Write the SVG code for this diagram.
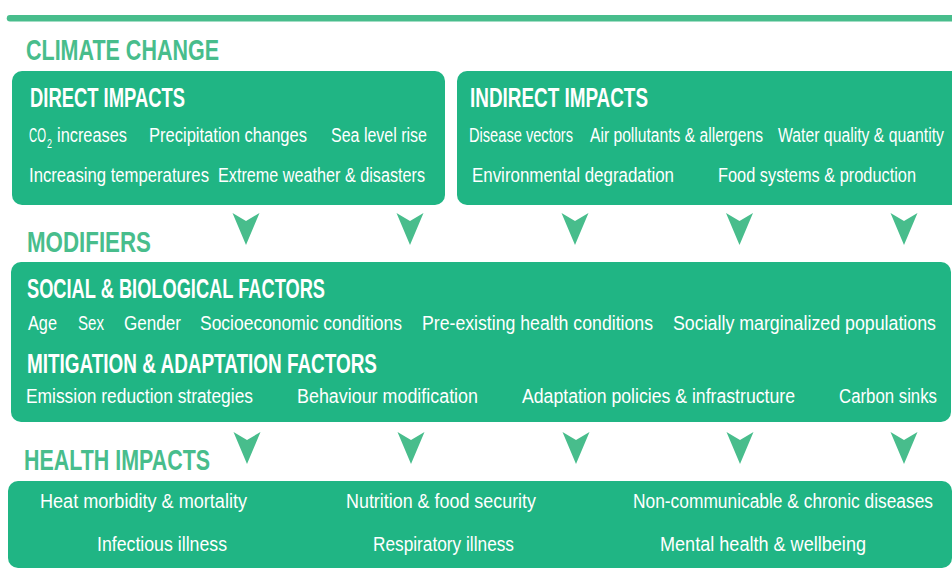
<svg xmlns="http://www.w3.org/2000/svg" width="952" height="581" viewBox="0 0 952 581">
<defs>
<style>
.box{fill:#20b584}
.sec{fill:#48bd8c;font-family:"Liberation Sans",Arial,sans-serif;font-weight:700;font-size:30px}
.hd{fill:#ffffff;font-family:"Liberation Sans",Arial,sans-serif;font-weight:700;font-size:27px}
.t{fill:#ffffff;font-family:"Liberation Sans",Arial,sans-serif;font-size:19.5px}
.arr{fill:#48bd8c}
</style>
<polygon id="ah" points="-13.5,0 0,8 13.5,0 0,32"/>
</defs>
<rect width="952" height="581" fill="#ffffff"/>
<line x1="10" y1="18.3" x2="960" y2="18.3" stroke="#48bd8c" stroke-width="6.5" stroke-linecap="round"/>
<text class="sec" x="26" y="60" textLength="193" lengthAdjust="spacingAndGlyphs">CLIMATE CHANGE</text>

<g id="direct-impacts">
<rect class="box" x="12" y="71" width="433" height="134" rx="10"/>
<text class="hd" x="30" y="107" textLength="155" lengthAdjust="spacingAndGlyphs">DIRECT IMPACTS</text>
<text class="t" x="29" y="141.7" textLength="17" lengthAdjust="spacingAndGlyphs">CO</text>
<text class="t" x="47" y="147.5" style="font-size:13px" textLength="5" lengthAdjust="spacingAndGlyphs">2</text>
<text class="t" x="57" y="141.7" textLength="70" lengthAdjust="spacingAndGlyphs">increases</text>
<text class="t" x="149" y="141.7" textLength="158" lengthAdjust="spacingAndGlyphs">Precipitation changes</text>
<text class="t" x="331" y="141.7" textLength="96" lengthAdjust="spacingAndGlyphs">Sea level rise</text>
<text class="t" x="29" y="181.7" textLength="180" lengthAdjust="spacingAndGlyphs">Increasing temperatures</text>
<text class="t" x="218" y="181.7" textLength="207" lengthAdjust="spacingAndGlyphs">Extreme weather &amp; disasters</text>
</g>

<g id="indirect-impacts">
<rect class="box" x="457" y="71" width="505" height="134" rx="10"/>
<text class="hd" x="470" y="107" textLength="178" lengthAdjust="spacingAndGlyphs">INDIRECT IMPACTS</text>
<text class="t" x="469" y="141.7" textLength="104" lengthAdjust="spacingAndGlyphs">Disease vectors</text>
<text class="t" x="590" y="141.7" textLength="173" lengthAdjust="spacingAndGlyphs">Air pollutants &amp; allergens</text>
<text class="t" x="778" y="141.7" textLength="166" lengthAdjust="spacingAndGlyphs">Water quality &amp; quantity</text>
<text class="t" x="472" y="181.7" textLength="202" lengthAdjust="spacingAndGlyphs">Environmental degradation</text>
<text class="t" x="718" y="181.7" textLength="198" lengthAdjust="spacingAndGlyphs">Food systems &amp; production</text>
</g>

<text class="sec" x="27" y="252" textLength="124" lengthAdjust="spacingAndGlyphs">MODIFIERS</text>

<g id="modifiers">
<rect class="box" x="11" y="262" width="940" height="160" rx="10"/>
<text class="hd" x="27" y="298" textLength="298" lengthAdjust="spacingAndGlyphs">SOCIAL &amp; BIOLOGICAL FACTORS</text>
<text class="t" x="28" y="330" textLength="29" lengthAdjust="spacingAndGlyphs">Age</text>
<text class="t" x="78" y="330" textLength="26" lengthAdjust="spacingAndGlyphs">Sex</text>
<text class="t" x="124" y="330" textLength="57" lengthAdjust="spacingAndGlyphs">Gender</text>
<text class="t" x="200" y="330" textLength="202" lengthAdjust="spacingAndGlyphs">Socioeconomic conditions</text>
<text class="t" x="422" y="330" textLength="231" lengthAdjust="spacingAndGlyphs">Pre-existing health conditions</text>
<text class="t" x="673" y="330" textLength="263" lengthAdjust="spacingAndGlyphs">Socially marginalized populations</text>
<text class="hd" x="27" y="372.7" textLength="350" lengthAdjust="spacingAndGlyphs">MITIGATION &amp; ADAPTATION FACTORS</text>
<text class="t" x="26" y="403" textLength="227" lengthAdjust="spacingAndGlyphs">Emission reduction strategies</text>
<text class="t" x="297" y="403" textLength="181" lengthAdjust="spacingAndGlyphs">Behaviour modification</text>
<text class="t" x="522" y="403" textLength="273" lengthAdjust="spacingAndGlyphs">Adaptation policies &amp; infrastructure</text>
<text class="t" x="839" y="403" textLength="98" lengthAdjust="spacingAndGlyphs">Carbon sinks</text>
</g>

<text class="sec" x="24" y="470" textLength="186" lengthAdjust="spacingAndGlyphs">HEALTH IMPACTS</text>

<g id="health-impacts">
<rect class="box" x="8" y="481" width="944" height="87" rx="10"/>
<text class="t" x="40" y="508.3" textLength="207" lengthAdjust="spacingAndGlyphs">Heat morbidity &amp; mortality</text>
<text class="t" x="346" y="508.3" textLength="190" lengthAdjust="spacingAndGlyphs">Nutrition &amp; food security</text>
<text class="t" x="633" y="508.3" textLength="300" lengthAdjust="spacingAndGlyphs">Non-communicable &amp; chronic diseases</text>
<text class="t" x="97" y="550.5" textLength="130" lengthAdjust="spacingAndGlyphs">Infectious illness</text>
<text class="t" x="373" y="550.5" textLength="141" lengthAdjust="spacingAndGlyphs">Respiratory illness</text>
<text class="t" x="660" y="550.5" textLength="206" lengthAdjust="spacingAndGlyphs">Mental health &amp; wellbeing</text>
</g>

<g id="connectors" class="arr">
<use href="#ah" x="246" y="213"/>
<use href="#ah" x="410" y="213"/>
<use href="#ah" x="575" y="213"/>
<use href="#ah" x="739.5" y="213"/>
<use href="#ah" x="904" y="213"/>
<use href="#ah" x="247" y="432"/>
<use href="#ah" x="411" y="432"/>
<use href="#ah" x="576" y="432"/>
<use href="#ah" x="740" y="432"/>
<use href="#ah" x="904" y="432"/>
</g>
</svg>
